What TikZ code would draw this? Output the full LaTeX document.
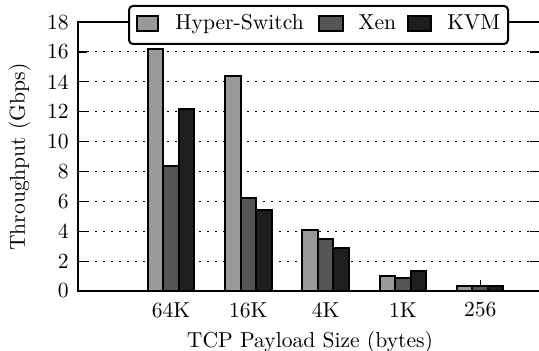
\documentclass[tikz,border=0pt]{standalone}
\usepackage{fontspec}
\definecolor{hsgray}{HTML}{999999}
\definecolor{xengray}{HTML}{555555}
\definecolor{kvmgray}{HTML}{1E1E1E}
\newcommand\ypx[1]{291-14.94*#1}
\newcommand\bargroup[4]{%
  \draw[hsbar]  ({#1-23.25},291) rectangle ({#1-7.75},{\ypx{#2}});
  \draw[xenbar] ({#1-7.75},291) rectangle ({#1+7.75},{\ypx{#3}});
  \draw[kvmbar] ({#1+7.75},291) rectangle ({#1+23.25},{\ypx{#4}});
}
\begin{document}
\begin{tikzpicture}[x=0.5pt,y=-0.5pt,
  font=\fontsize{10.8}{13}\selectfont,
  axisline/.style={line width=1pt},
  gridline/.style={line width=0.5pt, dash pattern=on 0.8pt off 3.2pt},
  tickmark/.style={line width=0.6pt},
  barbox/.style={draw=black, line width=1pt},
  hsbar/.style={barbox, fill=hsgray},
  xenbar/.style={barbox, fill=xengray},
  kvmbar/.style={barbox, fill=kvmgray},
  ticklabel/.style={anchor=east, inner sep=0pt},
  catlabel/.style={anchor=center, inner sep=0pt},
  legendbox/.style={draw, fill=white, line width=1pt, rounded corners=2pt, inner sep=0pt, anchor=north west, minimum width=189.5pt, minimum height=19pt},
  legtext/.style={anchor=base west, inner sep=0pt}]
\useasboundingbox (0,0) rectangle (539,351);
% grid and ticks
\foreach \v in {2,4,...,16}{
  \draw[gridline] (87,{\ypx{\v}}) -- (530,{\ypx{\v}});
}
\foreach \v in {0,2,...,18}{
  \draw[tickmark] (78,{\ypx{\v}}) -- (87,{\ypx{\v}});
  \draw[tickmark] (530,{\ypx{\v}}) -- (539,{\ypx{\v}});
  \node[ticklabel] (yl\v) at (69,{\ypx{\v}}) {\v};
}
% bars
\bargroup{171}{16.2}{8.4}{12.2}
\bargroup{248.3}{14.4}{6.2}{5.4}
\bargroup{325.6}{4.1}{3.5}{2.9}
\bargroup{402.9}{1.0}{0.9}{1.35}
\bargroup{480.2}{0.33}{0.33}{0.33}
\draw[line width=0.5pt] (480.2,280) -- (480.2,286);
% axes
\draw[axisline] (539,22) -- (78,22) -- (78,291) -- (539,291);
% category labels
\node[catlabel] (c64) at (171,310) {64K};
\node[catlabel] (c16) at (248.3,310) {16K};
\node[catlabel] (c4) at (325.6,310) {4K};
\node[catlabel] (c1) at (402.9,310) {1K};
\node[catlabel] (c256) at (480.2,310) {256};
% axis titles
\node[anchor=base, inner sep=0pt] (xtitle) at (310,347) {TCP Payload Size (bytes)};
\node[anchor=base, inner sep=0pt, rotate=90] (ytitle) at (25,157) {Throughput (Gbps)};
% legend
\node[legendbox] (legend) at (128,5) {};
\draw[hsbar]  (137,16) rectangle (158,31);
\node[legtext] (lhs) at (175,30) {Hyper-Switch};
\draw[xenbar] (319,16) rectangle (343,31);
\node[legtext] (lxen) at (358,30) {Xen};
\draw[kvmbar] (408,16) rectangle (431,31);
\node[legtext] (lkvm) at (447,30) {KVM};
\end{tikzpicture}
\end{document}
